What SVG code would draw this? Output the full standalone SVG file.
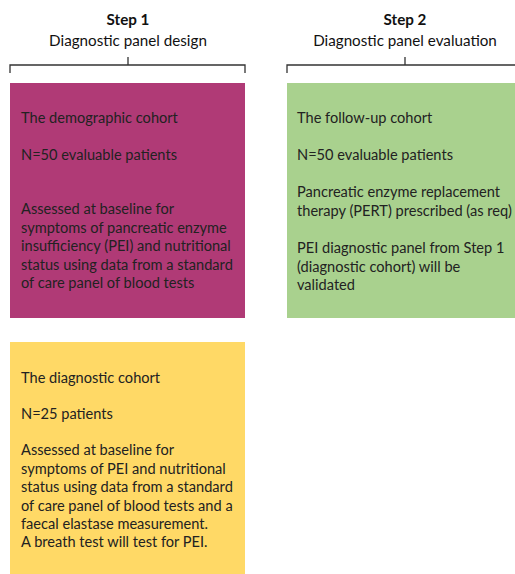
<svg xmlns="http://www.w3.org/2000/svg" width="515" height="574" viewBox="0 0 515 574">
<style>
.t{font-family:Lato,"Open Sans","Liberation Sans",sans-serif;font-size:14.6px;fill:#222}
.h{font-family:Lato,"Open Sans","Liberation Sans",sans-serif;font-size:15.2px;fill:#111;text-anchor:middle}
.hb{font-weight:bold}
.br{fill:none;stroke:#333;stroke-width:1.3}
</style>
<rect width="515" height="574" fill="#fff"/>
<g id="step1-header">
<text class="h hb" x="128" y="25">Step 1</text>
<text class="h" x="128" y="46">Diagnostic panel design</text>
</g>
<g id="step2-header">
<text class="h hb" x="405" y="25">Step 2</text>
<text class="h" x="405" y="46">Diagnostic panel evaluation</text>
</g>
<g id="connectors">
<path class="br" d="M10,73 V65 H245 V73 M128,65 V57"/>
<path class="br" d="M287,73 V65 H515 M405,65 V57"/>
</g>
<g id="demographic">
<rect x="10" y="83" width="235" height="235" fill="#B03A76"/>
<text class="t" x="21" y="123">The demographic cohort</text>
<text class="t" x="21" y="160">N=50 evaluable patients</text>
<text class="t" x="21" y="214">Assessed at baseline for</text>
<text class="t" x="21" y="233">symptoms of pancreatic enzyme</text>
<text class="t" x="21" y="251">insufficiency (PEI) and nutritional</text>
<text class="t" x="21" y="270">status using data from a standard</text>
<text class="t" x="21" y="288">of care panel of blood tests</text>
</g>
<g id="followup">
<rect x="287" y="83" width="228" height="235" fill="#A9D18E"/>
<text class="t" x="297" y="123">The follow-up cohort</text>
<text class="t" x="297" y="160">N=50 evaluable patients</text>
<text class="t" x="297" y="197">Pancreatic enzyme replacement</text>
<text class="t" x="297" y="216">therapy (PERT) prescribed (as req)</text>
<text class="t" x="297" y="253">PEI diagnostic panel from Step 1</text>
<text class="t" x="297" y="272">(diagnostic cohort) will be</text>
<text class="t" x="297" y="290">validated</text>
</g>
<g id="diagnostic">
<rect x="10" y="342" width="235" height="232" fill="#FFD966"/>
<text class="t" x="21" y="383">The diagnostic cohort</text>
<text class="t" x="21" y="419">N=25 patients</text>
<text class="t" x="21" y="455">Assessed at baseline for</text>
<text class="t" x="21" y="474">symptoms of PEI and nutritional</text>
<text class="t" x="21" y="492">status using data from a standard</text>
<text class="t" x="21" y="511">of care panel of blood tests and a</text>
<text class="t" x="21" y="529">faecal elastase measurement.</text>
<text class="t" x="21" y="547">A breath test will test for PEI.</text>
</g>
</svg>
